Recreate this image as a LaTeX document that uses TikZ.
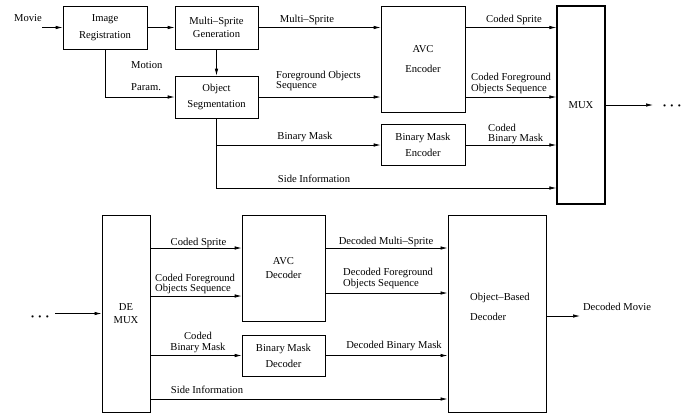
\documentclass[tikz,border=0pt]{standalone}
\usepackage{fontspec}
\setmainfont{Liberation Serif}
\usetikzlibrary{arrows.meta}
\begin{document}
\begin{tikzpicture}[x=1pt,y=-1pt,
  font=\fontsize{10.6}{10.8}\selectfont,
  box/.style={draw,line width=0.7pt,inner sep=0pt,align=center},
  arr/.style={line width=0.7pt,-{Latex[length=7pt,width=3.5pt]}},
  lbl/.style={inner sep=0pt,align=center},
  dotsty/.style={inner sep=0pt,font=\Large\boldmath}]
\useasboundingbox (0,0) rectangle (695,416);
% ---------- encoder ----------
\node[box,minimum width=84pt,minimum height=43pt] (reg) at (105,27.5) {Image\\[6pt]Registration};
\node[box,minimum width=83pt,minimum height=43pt] (msg) at (216.5,27.5) {Multi–Sprite\\[2pt]Generation};
\node[box,minimum width=84pt,minimum height=106pt] (avce) at (423,59) {AVC\\[9pt]Encoder};
\node[box,minimum width=83pt,minimum height=42pt] (oseg) at (216.5,97) {Object\\[6pt]Segmentation};
\node[box,minimum width=84pt,minimum height=41pt] (bme) at (423,145) {Binary Mask\\[5pt]Encoder};
\node[box,line width=1.3pt,minimum width=48pt,minimum height=198pt] (mux) at (581,105) {MUX};
\coordinate (r1) at (0,27.5);
\coordinate (r4) at (0,188);
\coordinate (movin) at (42,27.5);
\coordinate (muxout) at (653,105);
\draw[arr] (movin) -- (reg);
\draw[arr] (reg) -- (msg);
\draw[arr] (msg.east) -- (avce.west |- r1);
\draw[arr] (msg) -- (oseg);
\draw[arr] (reg.south) |- (oseg.west);
\draw[arr] (oseg.east) -- (avce.west |- oseg.east);
\draw[arr] (oseg.south) |- (mux.west |- r4);
\draw[arr] (oseg.south |- bme.west) -- (bme.west);
\draw[arr] (avce.east |- r1) -- (mux.west |- r1);
\draw[arr] (avce.east |- oseg.east) -- (mux.west |- oseg.east);
\draw[arr] (bme.east) -- (mux.west |- bme.east);
\draw[arr] (mux.east |- muxout) -- (muxout);
\node[lbl] (lmovie) at (28,18) {Movie};
\node[lbl] (lms) at (307,20) {Multi–Sprite};
\node[lbl,anchor=west,align=left] (lmot) at (131,76) {Motion\\[12pt]Param.};
\node[lbl,anchor=west,align=left] (lfos) at (276,81) {Foreground Objects\\Sequence};
\node[lbl] (lbm) at (305,137) {Binary Mask};
\node[lbl] (lsi) at (314,179) {Side Information};
\node[lbl] (lcs) at (514,20) {Coded Sprite};
\node[lbl,anchor=west,align=left] (lcfos) at (471,83.5) {Coded Foreground\\Objects Sequence};
\node[lbl,anchor=west,align=left] (lcbm) at (488,134) {Coded\\Binary Mask};
\node[dotsty] (dots1) at (672,106) {$\cdots$};
% ---------- decoder ----------
\node[box,line width=1pt,minimum width=48pt,minimum height=197pt] (demux) at (126,313.5) {DE\\[2pt]MUX};
\node[box,minimum width=83pt,minimum height=106pt] (avcd) at (283.5,268) {AVC\\[3pt]Decoder};
\node[box,minimum width=83pt,minimum height=41pt] (bmd) at (283.5,355.5) {Binary Mask\\[5pt]Decoder};
\node[box,line width=1pt,minimum width=98pt,minimum height=197pt] (obd) at (497,313.5) {};
\node[lbl,anchor=west,align=left] (obdt) at (470,307) {Object–Based\\[9pt]Decoder};
\coordinate (s1) at (0,248);
\coordinate (s2) at (0,296);
\coordinate (s2b) at (0,293);
\coordinate (s4) at (0,399);
\coordinate (dmin) at (55,313.5);
\coordinate (obout) at (580,316);
\draw[arr] (dmin) -- (demux);
\draw[arr] (demux.east |- s1) -- (avcd.west |- s1);
\draw[arr] (demux.east |- s2) -- (avcd.west |- s2);
\draw[arr] (demux.east |- bmd.west) -- (bmd.west);
\draw[arr] (demux.east |- s4) -- (obd.west |- s4);
\draw[arr] (avcd.east |- s1) -- (obd.west |- s1);
\draw[arr] (avcd.east |- s2b) -- (obd.west |- s2b);
\draw[arr] (bmd.east) -- (obd.west |- bmd.east);
\draw[arr] (obd.east |- obout) -- (obout);
\node[dotsty] (dots2) at (40,317) {$\cdots$};
\node[lbl] (lcs2) at (198.5,243) {Coded Sprite};
\node[lbl,anchor=west,align=left] (lcfos2) at (155,284) {Coded Foreground\\Objects Sequence};
\node[lbl] (lcbm2) at (198,342.5) {Coded\\Binary Mask};
\node[lbl] (lsi2) at (207,390) {Side Information};
\node[lbl] (ldms) at (386,242) {Decoded Multi–Sprite};
\node[lbl,anchor=west,align=left] (ldfos) at (343,278.5) {Decoded Foreground\\Objects Sequence};
\node[lbl] (ldbm) at (394,346) {Decoded Binary Mask};
\node[lbl] (ldm) at (617,307) {Decoded Movie};
\end{tikzpicture}
\end{document}
